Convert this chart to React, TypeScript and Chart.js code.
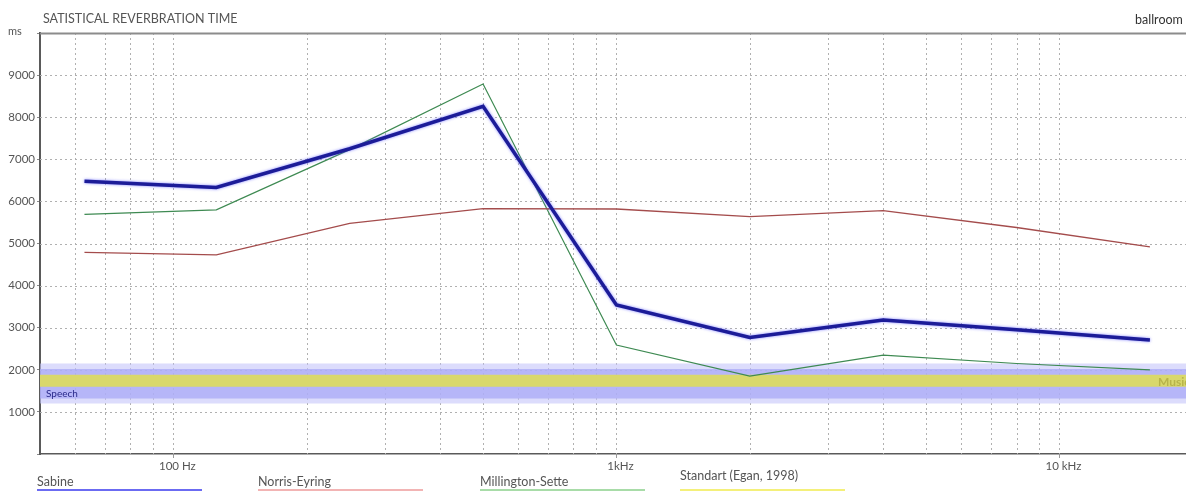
import React, { useEffect, useRef } from "react";
import { Chart, registerables } from "chart.js";

Chart.register(...registerables);

// Octave band centre frequencies (Hz) and reverberation times (ms)
const bandHz = [63, 125, 250, 500, 1000, 2000, 4000, 8000, 16000];
const sabineMs = [6480, 6330, 7250, 8260, 3540, 2770, 3180, 2950, 2710];
const norrisEyringMs = [4790, 4730, 5480, 5830, 5820, 5640, 5780, 5380, 4920];
const millingtonSetteMs = [5690, 5800, 7230, 8790, 2590, 1850, 2350, 2150, 2000];

// Recommended ranges (Egan, 1998)
const rangeHz = [50, 19300];
const speechOuterMs = [1200, 2150];
const speechCoreMs = [1320, 2020];
const musicMs = [1600, 1880];

// Axis ticks
const gridHz = [
  60, 70, 80, 90, 100, 200, 300, 400, 500, 600, 700, 800, 900, 1000, 2000, 3000,
  4000, 5000, 6000, 7000, 8000, 9000, 10000,
];
const freqLabels: Record<number, string> = { 100: "100 Hz", 1000: "1kHz", 10000: "10 kHz" };
const msGrid = [1000, 2000, 3000, 4000, 5000, 6000, 7000, 8000, 9000];
const msMax = 10000;

const FONT = 'Lato, "Open Sans", sans-serif';

const legendItems = [
  { label: "Sabine", color: "#6b6bf2", x: 37, y: 486 },
  { label: "Norris-Eyring", color: "#f2b4b4", x: 258, y: 486 },
  { label: "Millington-Sette", color: "#a8dca8", x: 480, y: 486 },
  { label: "Standart (Egan, 1998)", color: "#f4f07a", x: 680, y: 480 },
];

const toPoints = (ys: number[]) => bandHz.map((x, i) => ({ x, y: ys[i] }));
const flat = (y: number) => rangeHz.map((x) => ({ x, y }));

const decorPlugin = {
  id: "reverbDecor",
  beforeDatasetsDraw(chart: any) {
    const { ctx, chartArea: a, scales } = chart;
    const xs = scales.x;
    const ys = scales.y;
    ctx.save();
    ctx.beginPath();
    ctx.rect(a.left, a.top, a.right - a.left, a.bottom - a.top);
    ctx.clip();
    ctx.strokeStyle = "#b0b0b0";
    ctx.lineWidth = 1;
    ctx.setLineDash([2, 3]);
    for (const v of msGrid) {
      const y = Math.round(ys.getPixelForValue(v)) + 0.5;
      ctx.beginPath();
      ctx.moveTo(a.left, y);
      ctx.lineTo(a.right, y);
      ctx.stroke();
    }
    for (const f of gridHz) {
      const x = Math.round(xs.getPixelForValue(f)) + 0.5;
      ctx.beginPath();
      ctx.moveTo(x, a.top);
      ctx.lineTo(x, a.bottom);
      ctx.stroke();
    }
    ctx.restore();
  },
  beforeDatasetDraw(chart: any, args: any) {
    if (args.index === 0) {
      const ctx = chart.ctx;
      ctx.save();
      ctx.shadowColor = "rgba(90,90,255,0.75)";
      ctx.shadowBlur = 3;
    }
  },
  afterDatasetDraw(chart: any, args: any) {
    if (args.index === 0) chart.ctx.restore();
  },
  afterDatasetsDraw(chart: any) {
    const { ctx, chartArea: a, scales } = chart;
    const ys = scales.y;
    ctx.save();
    // top frame line
    const yTop = Math.round(ys.getPixelForValue(msMax)) + 0.5;
    ctx.strokeStyle = "#8c8c8c";
    ctx.lineWidth = 2;
    ctx.beginPath();
    ctx.moveTo(a.left, yTop);
    ctx.lineTo(a.right, yTop);
    ctx.stroke();
    // band labels
    ctx.font = `10px ${FONT}`;
    ctx.textBaseline = "middle";
    ctx.textAlign = "left";
    ctx.fillStyle = "#2a2a8a";
    ctx.fillText("Speech", a.left + 6, ys.getPixelForValue((speechCoreMs[0] + musicMs[0]) / 2) + 1);
    ctx.font = `bold 12px ${FONT}`;
    ctx.fillStyle = "#b8b44a";
    ctx.fillText("Music", a.right - 28, ys.getPixelForValue((musicMs[0] + musicMs[1]) / 2) + 1);
    ctx.restore();
  },
  afterDraw(chart: any) {
    const { ctx, chartArea: a } = chart;
    ctx.save();
    ctx.textBaseline = "alphabetic";
    ctx.textAlign = "left";
    ctx.fillStyle = "#555";
    ctx.font = `12.5px ${FONT}`;
    ctx.fillText("SATISTICAL REVERBRATION TIME", a.left + 3, 23);
    ctx.font = `11px ${FONT}`;
    ctx.fillText("ms", 8, 35);
    ctx.fillStyle = "#333";
    ctx.font = `12.5px ${FONT}`;
    ctx.fillText("ballroom", 1135, 24);
    // legend
    ctx.font = `12.5px ${FONT}`;
    for (const item of legendItems) {
      ctx.fillStyle = "#555";
      ctx.fillText(item.label, item.x, item.y);
      ctx.strokeStyle = item.color;
      ctx.lineWidth = 2;
      ctx.beginPath();
      ctx.moveTo(item.x, 490);
      ctx.lineTo(item.x + 165, 490);
      ctx.stroke();
    }
    ctx.restore();
  },
};

export default function App() {
  const canvasRef = useRef<HTMLCanvasElement | null>(null);

  useEffect(() => {
    if (!canvasRef.current) return;
    const bandLine = {
      borderWidth: 0,
      borderColor: "transparent",
      pointRadius: 0,
      pointHoverRadius: 0,
    };
    const chart = new Chart(canvasRef.current, {
      type: "line",
      data: {
        datasets: [
          {
            label: "Sabine",
            data: toPoints(sabineMs),
            borderColor: "#1c1c98",
            borderWidth: 3.5,
            pointRadius: 0,
            tension: 0,
            order: 0,
          },
          {
            label: "Norris-Eyring",
            data: toPoints(norrisEyringMs),
            borderColor: "#a44c4c",
            borderWidth: 1.3,
            pointRadius: 0,
            tension: 0,
            order: 0,
          },
          {
            label: "Millington-Sette",
            data: toPoints(millingtonSetteMs),
            borderColor: "#3e8a52",
            borderWidth: 1.2,
            pointRadius: 0,
            tension: 0,
            order: 0,
          },
          // speech range, soft outer edge
          { label: "speech-outer-lo", data: flat(speechOuterMs[0]), ...bandLine, fill: false, order: 5 },
          {
            label: "speech-outer-hi",
            data: flat(speechOuterMs[1]),
            ...bandLine,
            fill: 3,
            backgroundColor: "rgba(196,196,250,0.6)",
            order: 5,
          },
          // speech range core
          { label: "speech-core-lo", data: flat(speechCoreMs[0]), ...bandLine, fill: false, order: 4 },
          {
            label: "speech-core-hi",
            data: flat(speechCoreMs[1]),
            ...bandLine,
            fill: 5,
            backgroundColor: "rgba(170,170,245,0.75)",
            order: 4,
          },
          // music range
          { label: "music-lo", data: flat(musicMs[0]), ...bandLine, fill: false, order: 3 },
          {
            label: "music-hi",
            data: flat(musicMs[1]),
            ...bandLine,
            fill: 7,
            backgroundColor: "#d9d86c",
            order: 3,
          },
        ],
      },
      options: {
        animation: false,
        responsive: false,
        maintainAspectRatio: false,
        layout: { padding: { top: 33, right: 0, bottom: 0, left: 0 } },
        plugins: {
          legend: { display: false },
          tooltip: { enabled: false },
          title: { display: false },
        },
        scales: {
          x: {
            type: "logarithmic",
            min: rangeHz[0],
            max: rangeHz[1],
            afterBuildTicks: (scale: any) => {
              scale.ticks = gridHz.map((value) => ({ value, major: !!freqLabels[value] }));
            },
            afterFit: (scale: any) => {
              scale.height = 37;
            },
            ticks: {
              autoSkip: false,
              maxRotation: 0,
              minRotation: 0,
              padding: 1,
              labelOffset: 4,
              color: "#555",
              font: { family: FONT, size: 11.5 },
              callback: (v: any) => freqLabels[Number(v)] ?? "",
            },
            grid: {
              drawOnChartArea: false,
              drawTicks: true,
              tickLength: 4,
              tickColor: (c: any) => (c.tick && freqLabels[c.tick.value] ? "#999" : "transparent"),
            },
            border: { display: true, color: "#5a5a5a", width: 1.5 },
          },
          y: {
            type: "linear",
            min: 0,
            max: msMax,
            afterFit: (scale: any) => {
              scale.width = 40;
            },
            ticks: {
              stepSize: 1000,
              padding: 2,
              color: "#555",
              font: { family: FONT, size: 11.5 },
              callback: (v: any) => (Number(v) === 0 || Number(v) === msMax ? "" : String(v)),
            },
            grid: {
              drawOnChartArea: false,
              drawTicks: true,
              tickLength: 3,
              color: "#888",
            },
            border: { display: true, color: "#5a5a5a", width: 2 },
          },
        },
      },
      plugins: [decorPlugin],
    } as any);
    return () => chart.destroy();
  }, []);

  return (
    <div style={{ position: "absolute", left: 0, top: 0, width: 1186, height: 491, background: "#fff" }}>
      <canvas ref={canvasRef} width={1186} height={491} />
    </div>
  );
}
